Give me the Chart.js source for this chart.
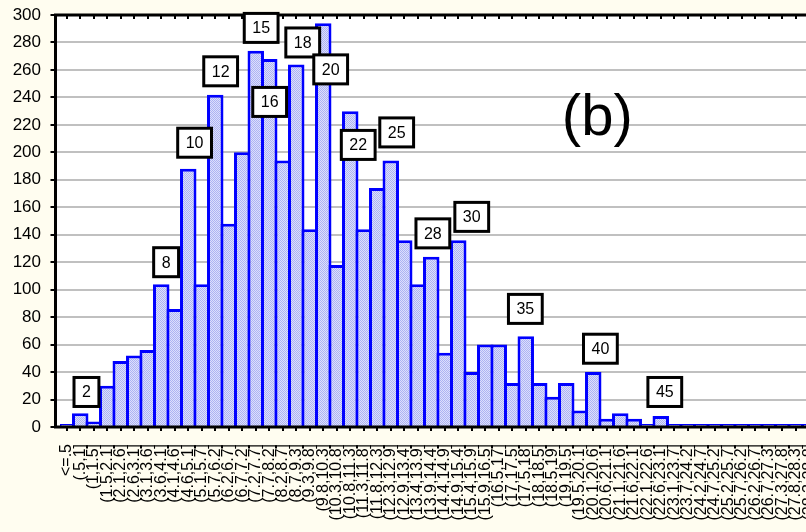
<!DOCTYPE html>
<html>
<head>
<meta charset="utf-8">
<script src="https://cdn.jsdelivr.net/npm/chart.js@4.4.1/dist/chart.umd.min.js"></script>
<style>
  html, body { margin: 0; padding: 0; overflow: hidden; background: #fffdf0; }
  #wrap { position: relative; width: 826px; height: 532px; }
</style>
</head>
<body>
<div id="wrap"><canvas id="hist-chart" width="826" height="532"></canvas></div>
<script>
// histogram bins (x axis)
const binLabels = [
  "<=.5", "(.5,1]", "(1,1.5]", "(1.5,2.1]", "(2.1,2.6]", "(2.6,3.1]", "(3.1,3.6]", "(3.6,4.1]",
  "(4.1,4.6]", "(4.6,5.1]", "(5.1,5.7]", "(5.7,6.2]", "(6.2,6.7]", "(6.7,7.2]", "(7.2,7.7]",
  "(7.7,8.2]", "(8.2,8.7]", "(8.7,9.3]", "(9.3,9.8]", "(9.8,10.3]", "(10.3,10.8]", "(10.8,11.3]",
  "(11.3,11.8]", "(11.8,12.3]", "(12.3,12.9]", "(12.9,13.4]", "(13.4,13.9]", "(13.9,14.4]",
  "(14.4,14.9]", "(14.9,15.4]", "(15.4,15.9]", "(15.9,16.5]", "(16.5,17]", "(17,17.5]",
  "(17.5,18]", "(18,18.5]", "(18.5,19]", "(19,19.5]", "(19.5,20.1]", "(20.1,20.6]",
  "(20.6,21.1]", "(21.1,21.6]", "(21.6,22.1]", "(22.1,22.6]", "(22.6,23.1]", "(23.1,23.7]",
  "(23.7,24.2]", "(24.2,24.7]", "(24.7,25.2]", "(25.2,25.7]", "(25.7,26.2]", "(26.2,26.7]",
  "(26.7,27.3]", "(27.3,27.8]", "(27.8,28.3]", "(28.3,28.8]"
];

// counts per bin
const counts = [
  0, 10, 4, 30, 48, 52, 56, 104, 86, 188, 104, 242, 148, 200, 274, 268, 194, 264, 144, 294,
  118, 230, 144, 174, 194, 136, 104, 124, 54, 136, 40, 60, 60, 32, 66, 32, 22, 32, 12, 40,
  6, 10, 6, 2, 8, 0, 0, 0, 0, 0, 0, 0, 0, 0, 0, 0
];

const yTicks = { min: 0, max: 300, step: 20 };

// boxed numbers: text, bin position, count position
const noteLabels = ["2", "8", "10", "12", "15", "16", "18", "20", "22", "25", "28", "30", "35", "40", "45"];
const noteBin = [1.46, 7.36, 9.47, 11.4, 14.4, 15.03, 17.48, 19.55, 21.59, 24.44, 27.12, 30.0, 33.97, 39.53, 44.3];
const noteCount = [25.5, 120, 207, 259, 290.6, 236.7, 280, 260.4, 205.4, 214.5, 141, 153, 86, 57, 25.5];

const panelTag = "(b)";
const panelBin = 39.3;
const panelCount = 224;

const FONT = "Arial, 'Liberation Sans', sans-serif";

// dotted light blue fill like the original
const pc = document.createElement("canvas");
pc.width = 2;
pc.height = 2;
const pg = pc.getContext("2d");
pg.fillStyle = "#dcdffc";
pg.fillRect(0, 0, 2, 2);
pg.fillStyle = "#adb3f3";
pg.fillRect(0, 0, 1, 1);
pg.fillRect(1, 1, 1, 1);

const framePlugin = {
  id: "frame",
  beforeDraw(chart) {
    const c = chart.ctx, ca = chart.chartArea;
    const ax = ca.left - 4.5;
    c.save();
    c.fillStyle = "#fffdf0";
    c.fillRect(0, 0, chart.width, chart.height);
    c.fillStyle = "#ffffff";
    c.fillRect(ax, ca.top, chart.width - ax, ca.bottom - ca.top);
    c.restore();
  },
  beforeDatasetsDraw(chart) {
    const c = chart.ctx, ca = chart.chartArea, y = chart.scales.y;
    const ax = ca.left - 4.5;
    c.save();
    c.strokeStyle = "#c0c0c0";
    c.lineWidth = 2;
    y.ticks.forEach((t) => {
      if (t.value <= yTicks.min || t.value >= yTicks.max) return;
      const py = Math.round(y.getPixelForValue(t.value));
      c.beginPath();
      c.moveTo(ax, py);
      c.lineTo(chart.width, py);
      c.stroke();
    });
    c.restore();
  },
  afterDatasetsDraw(chart) {
    const c = chart.ctx, ca = chart.chartArea;
    const x = chart.scales.x, y = chart.scales.y;
    const ax = ca.left - 4.5;
    c.save();
    c.strokeStyle = "#000";
    // ticks along top and bottom
    c.lineWidth = 2;
    binLabels.forEach((_, i) => {
      const px = Math.round(x.getPixelForValue(i));
      c.beginPath();
      c.moveTo(px, ca.bottom);
      c.lineTo(px, ca.bottom + 4);
      c.moveTo(px, ca.top);
      c.lineTo(px, ca.top + 4);
      c.stroke();
    });
    y.ticks.forEach((t) => {
      const py = Math.round(y.getPixelForValue(t.value));
      c.beginPath();
      c.moveTo(ax - 5, py);
      c.lineTo(ax, py);
      c.stroke();
    });
    // frame lines
    c.lineWidth = 3;
    c.beginPath();
    c.moveTo(ax - 1.5, ca.bottom);
    c.lineTo(chart.width, ca.bottom);
    c.moveTo(ax - 1.5, ca.top);
    c.lineTo(chart.width, ca.top);
    c.moveTo(ax, ca.top);
    c.lineTo(ax, ca.bottom + 1.5);
    c.stroke();

    // boxed numbers
    c.font = "16px " + FONT;
    c.textAlign = "center";
    c.textBaseline = "middle";
    noteLabels.forEach((txt, i) => {
      const px = x.getPixelForValue(noteBin[i]);
      const py = y.getPixelForValue(noteCount[i]);
      const w = c.measureText(txt).width + 16;
      const h = 29;
      c.fillStyle = "#fff";
      c.fillRect(px - w / 2, py - h / 2, w, h);
      c.lineWidth = 3;
      c.strokeRect(px - w / 2, py - h / 2, w, h);
      c.fillStyle = "#000";
      c.fillText(txt, px, py + 1);
    });

    c.font = "58px " + FONT;
    c.fillText(panelTag, x.getPixelForValue(panelBin), y.getPixelForValue(panelCount));
    c.restore();
  },
};

const ctx = document.getElementById("hist-chart").getContext("2d");
window.histChart = new Chart(ctx, {
  type: "bar",
  data: {
    labels: binLabels,
    datasets: [
      {
        data: counts,
        backgroundColor: ctx.createPattern(pc, "repeat"),
        borderColor: "#0000ff",
        borderWidth: 3,
        borderSkipped: "start",
        categoryPercentage: 1,
        barPercentage: 1.22,
        minBarLength: 3,
      },
    ],
  },
  options: {
    responsive: false,
    animation: false,
    layout: { padding: { top: 15, right: 10, left: 0, bottom: 0 } },
    plugins: { legend: { display: false }, tooltip: { enabled: false } },
    scales: {
      x: {
        grid: { display: false },
        border: { display: false },
        ticks: {
          autoSkip: false,
          minRotation: 90,
          maxRotation: 90,
          padding: 9,
          color: "#000",
          font: { family: FONT, size: 16 },
        },
        afterFit(scale) {
          scale.height = 105;
          scale.paddingLeft = 0;
          scale.paddingRight = 0;
        },
      },
      y: {
        min: yTicks.min,
        max: yTicks.max,
        grid: { display: false },
        border: { display: false },
        ticks: {
          stepSize: yTicks.step,
          padding: 11,
          color: "#000",
          font: { family: FONT, size: 17 },
        },
        afterFit(scale) {
          scale.width = 60;
          scale.paddingTop = 0;
          scale.paddingBottom = 0;
        },
      },
    },
  },
  plugins: [framePlugin],
});
</script>
</body>
</html>
